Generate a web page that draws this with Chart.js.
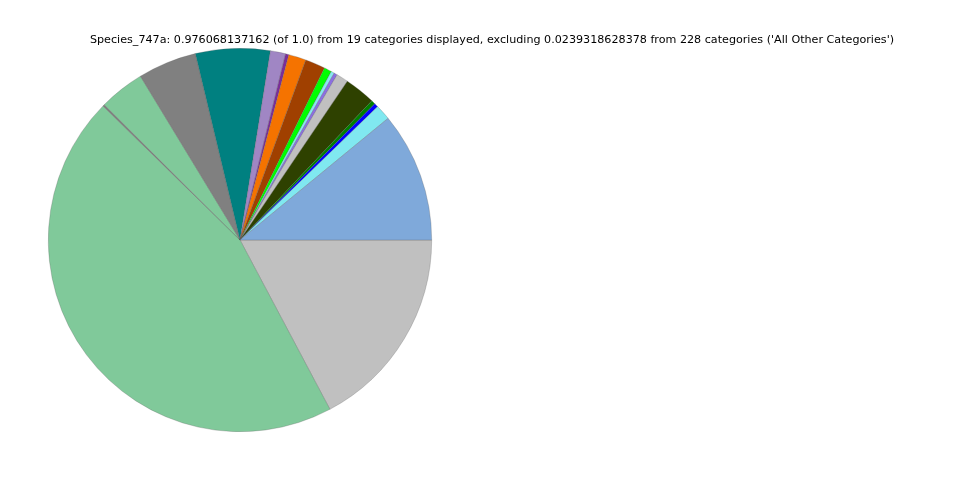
<!DOCTYPE html>
<html lang="en">
<head>
    <meta charset="UTF-8">
    <title>Species_747a</title>
    <script src="https://cdn.jsdelivr.net/npm/chart.js"></script>
    <style>
        body { margin: 0; background: #fff; }
        .container { width: 960px; height: 480px; position: relative; }
    </style>
</head>
<body>
    <div class="container">
        <canvas id="pieChart" width="960" height="480"></canvas>
    </div>

    <script>
        // slices in matplotlib order: counter-clockwise from 3 o'clock
        const categories = ['cat1', 'cat2', 'cat3', 'cat4', 'cat5', 'cat6', 'cat7', 'cat8', 'cat9', 'cat10',
                            'cat11', 'cat12', 'cat13', 'cat14', 'cat15', 'cat16', 'cat17', 'cat18', 'cat19'];
        const values = [0.1068, 0.0127, 0.0033, 0.0033, 0.0255, 0.0098, 0.0027, 0.0027, 0.0062, 0.0165,
                        0.0144, 0.0027, 0.0125, 0.0613, 0.0483, 0.0374, 0.0014, 0.4400, 0.1681];
        const colors = ['#7fa9da', '#80e8f0', '#0000ff', '#008000', '#2e4100', '#c0c0c0', '#8b6fe0', '#88e8f0', '#00ff00', '#a04000',
                        '#f57300', '#7b2d9b', '#a086c4', '#008080', '#808080', '#80c99a', '#808080', '#80c99a', '#c0c0c0'];
        const titleText = "Species_747a: 0.976068137162 (of 1.0) from 19 categories displayed, excluding 0.0239318628378 from 228 categories ('All Other Categories')";

        // Chart.js draws clockwise, so reverse and start at 3 o'clock
        const labelsCw = categories.slice().reverse();
        const valuesCw = values.slice().reverse();
        const colorsCw = colors.slice().reverse();

        const titlePlugin = {
            id: 'figTitle',
            afterDraw(chart) {
                const ctx = chart.ctx;
                ctx.save();
                ctx.font = '11.15px "DejaVu Sans"';
                ctx.fillStyle = '#000';
                ctx.textAlign = 'center';
                ctx.textBaseline = 'middle';
                ctx.fillText(titleText, 492, 40);
                ctx.restore();
            }
        };

        new Chart(document.getElementById('pieChart').getContext('2d'), {
            type: 'pie',
            data: {
                labels: labelsCw,
                datasets: [{
                    data: valuesCw,
                    backgroundColor: colorsCw,
                    borderColor: 'rgba(90,90,90,0.45)',
                    borderWidth: 0.6
                }]
            },
            options: {
                responsive: false,
                animation: false,
                rotation: 90,
                layout: { padding: { left: 48, right: 528, top: 48, bottom: 48 } },
                plugins: {
                    legend: { display: false },
                    tooltip: { enabled: false }
                }
            },
            plugins: [titlePlugin]
        });
    </script>
</body>
</html>
